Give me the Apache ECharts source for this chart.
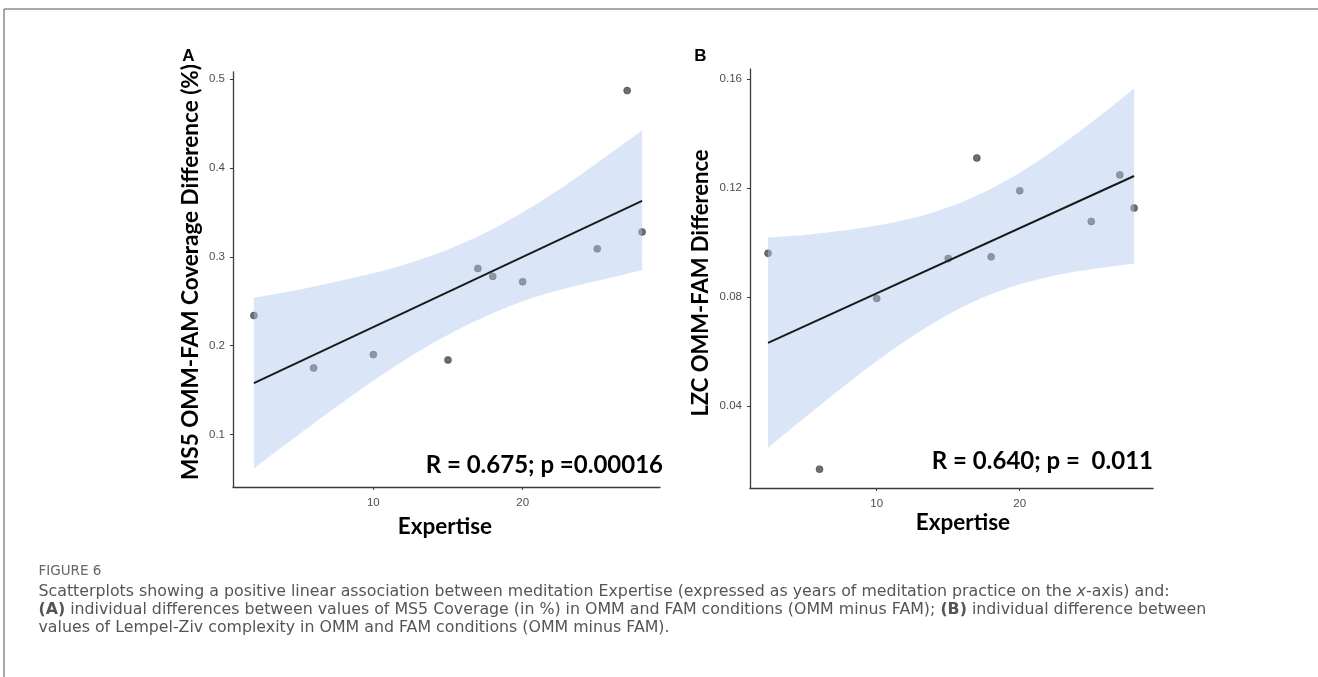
<!DOCTYPE html>
<html>
<head>
<meta charset="utf-8">
<script src="https://cdn.jsdelivr.net/npm/echarts@6/dist/echarts.min.js"></script>
<style>
html,body{margin:0;padding:0;background:#fff;}
#chart{width:1318px;height:677px;}
</style>
</head>
<body>
<div id="chart"></div>
<script>
// ---------- Data ----------
// Panel A: MS5 OMM-FAM coverage difference vs expertise (years)
const expertiseA = [2, 6, 10, 15, 17, 18, 20, 25, 27, 28];
const ms5Diff    = [0.234, 0.175, 0.190, 0.184, 0.287, 0.278, 0.272, 0.309, 0.487, 0.328];
const fitAx = [2, 28];
const fitAy = [0.158, 0.363];
const bandAx    = [2, 5, 8, 11, 14, 17, 20, 23, 26, 28];
const bandALow  = [0.062, 0.100, 0.137, 0.172, 0.203, 0.229, 0.250, 0.265, 0.277, 0.285];
const bandAHigh = [0.254, 0.263, 0.274, 0.286, 0.302, 0.323, 0.350, 0.382, 0.418, 0.442];
const yTicksA = [0.1, 0.2, 0.3, 0.4, 0.5];

// Panel B: LZC OMM-FAM difference vs expertise (years)
const expertiseB = [2.4, 6, 10, 15, 17, 18, 20, 25, 27, 28];
const lzcDiff    = [0.096, 0.0167, 0.0794, 0.0941, 0.131, 0.0947, 0.119, 0.1077, 0.1248, 0.1126];
const fitBx = [2.4, 28];
const fitBy = [0.0631, 0.1244];
const bandBx    = [2.4, 5, 8, 11, 14, 17, 20, 23, 26, 28];
const bandBLow  = [0.0246, 0.0358, 0.0484, 0.0602, 0.0705, 0.0788, 0.0846, 0.0884, 0.0909, 0.0922];
const bandBHigh = [0.1018, 0.1028, 0.1046, 0.1072, 0.1111, 0.1172, 0.1256, 0.1362, 0.1481, 0.1566];
const yTicksB = [0.04, 0.08, 0.12, 0.16];

const xTicks = [10, 20];

// ---------- Helpers ----------
const pairs = (xs, ys) => xs.map((x, i) => [x, ys[i]]);

const AXIS_COLOR = '#3a3a3a';
const LABEL_STYLE = { color: '#4d4d4d', fontSize: 11.5, fontFamily: 'Liberation Sans, Arial, sans-serif' };
const BAND_COLOR = 'rgba(175,200,238,0.46)';
const POINT_COLOR = '#4a4a4a';

function makeXAxis(grid, min, max) {
  return {
    type: 'value', gridIndex: grid, min: min, max: max,
    axisLine: { show: true, onZero: false, lineStyle: { color: AXIS_COLOR, width: 1.3 } },
    axisTick: { show: true, length: 3, customValues: xTicks, lineStyle: { color: AXIS_COLOR, width: 1 } },
    axisLabel: Object.assign({ customValues: xTicks, margin: 10 }, LABEL_STYLE),
    splitLine: { show: false }
  };
}
function makeYAxis(grid, min, max, ticks, fmt) {
  return {
    type: 'value', gridIndex: grid, min: min, max: max,
    axisLine: { show: true, onZero: false, lineStyle: { color: AXIS_COLOR, width: 1.3 } },
    axisTick: { show: true, length: 3, customValues: ticks, lineStyle: { color: AXIS_COLOR, width: 1 } },
    axisLabel: Object.assign({ customValues: ticks, margin: 8, formatter: fmt }, LABEL_STYLE),
    splitLine: { show: false }
  };
}

// Catmull-Rom smoothing of screen-space points (rendering only)
function smoothPts(pts) {
  const out = [];
  const n = pts.length, steps = 10;
  for (let i = 0; i < n - 1; i++) {
    const p0 = pts[Math.max(i - 1, 0)], p1 = pts[i], p2 = pts[i + 1], p3 = pts[Math.min(i + 2, n - 1)];
    for (let s = 0; s < steps; s++) {
      const t = s / steps, t2 = t * t, t3 = t2 * t;
      const f = (a, b, c, d) => 0.5 * ((2 * b) + (-a + c) * t + (2 * a - 5 * b + 4 * c - d) * t2 + (-a + 3 * b - 3 * c + d) * t3);
      out.push([f(p0[0], p1[0], p2[0], p3[0]), f(p0[1], p1[1], p2[1], p3[1])]);
    }
  }
  out.push(pts[n - 1]);
  return out;
}

function bandSeries(idx, bx, lo, hi) {
  return {
    type: 'custom', xAxisIndex: idx, yAxisIndex: idx, z: 3, silent: true,
    data: bx.map((x, i) => [x, lo[i], hi[i]]),
    encode: { x: 0, y: [1, 2] },
    renderItem: function (params, api) {
      if (params.dataIndex !== 0) return null;
      const top = bx.map((x, i) => api.coord([x, hi[i]]));
      const bot = bx.map((x, i) => api.coord([x, lo[i]]));
      const pts = smoothPts(top).concat(smoothPts(bot).reverse());
      return { type: 'polygon', shape: { points: pts }, style: { fill: BAND_COLOR } };
    }
  };
}

function panelSeries(idx, xs, ys, bx, blo, bhi, fx, fy) {
  return [
    {
      type: 'scatter', xAxisIndex: idx, yAxisIndex: idx,
      data: pairs(xs, ys), symbolSize: 7, z: 2,
      itemStyle: { color: POINT_COLOR, borderColor: '#333', borderWidth: 0.6 }
    },
    bandSeries(idx, bx, blo, bhi),
    {
      type: 'line', xAxisIndex: idx, yAxisIndex: idx,
      data: pairs(fx, fy), symbol: 'none', z: 4, silent: true,
      lineStyle: { color: '#1a1a1a', width: 2 }
    }
  ];
}

const boldFont = (size) => 'bold ' + size + 'px Lato, "Open Sans", sans-serif';
const CAPTION_FAMILY = '"DejaVu Sans", "Open Sans", sans-serif';
const CAPTION_FONT = '15.8px ' + CAPTION_FAMILY;
const CAPTION_COLOR = '#555555';

const option = {
  animation: false,
  backgroundColor: '#ffffff',
  grid: [
    { left: 233, top: 72, width: 427, height: 415 },
    { left: 750, top: 69, width: 403, height: 419 }
  ],
  xAxis: [ makeXAxis(0, 0.6, 29.2), makeXAxis(1, 1.14, 29.32) ],
  yAxis: [
    makeYAxis(0, 0.0411, 0.5079, yTicksA, v => v.toFixed(1)),
    makeYAxis(1, 0.0098, 0.1637, yTicksB, v => v.toFixed(2))
  ],
  series: [].concat(
    panelSeries(0, expertiseA, ms5Diff, bandAx, bandALow, bandAHigh, fitAx, fitAy),
    panelSeries(1, expertiseB, lzcDiff, bandBx, bandBLow, bandBHigh, fitBx, fitBy)
  ),
  graphic: [
    // frame
    { type: 'line', shape: { x1: 4, y1: 9, x2: 1318, y2: 9 }, style: { stroke: '#8c8c8c', lineWidth: 1.5 } },
    { type: 'line', shape: { x1: 4, y1: 9, x2: 4, y2: 677 }, style: { stroke: '#8c8c8c', lineWidth: 1.5 } },
    // panel letters
    { type: 'text', x: 188.5, y: 56, style: { text: 'A', font: 'bold 17px "Liberation Sans", Arial, sans-serif', fill: '#000', textAlign: 'center', textVerticalAlign: 'middle' } },
    { type: 'text', x: 700.5, y: 56.5, style: { text: 'B', font: 'bold 17px "Liberation Sans", Arial, sans-serif', fill: '#000', textAlign: 'center', textVerticalAlign: 'middle' } },
    // y axis titles
    { type: 'text', x: 191, y: 272, rotation: Math.PI / 2, style: { text: 'MS5 OMM-FAM Coverage Difference (%)', font: boldFont(22.5), fill: '#000', textAlign: 'center', textVerticalAlign: 'middle' } },
    { type: 'text', x: 701, y: 283, rotation: Math.PI / 2, style: { text: 'LZC OMM-FAM Difference', font: boldFont(22), fill: '#000', textAlign: 'center', textVerticalAlign: 'middle' } },
    // x axis titles
    { type: 'text', x: 445, y: 527, style: { text: 'Expertise', font: boldFont(22.5), fill: '#000', textAlign: 'center', textVerticalAlign: 'middle' } },
    { type: 'text', x: 963, y: 523, style: { text: 'Expertise', font: boldFont(22.5), fill: '#000', textAlign: 'center', textVerticalAlign: 'middle' } },
    // statistics annotations
    { type: 'text', x: 663, y: 465, style: { text: 'R = 0.675; p =0.00016', font: boldFont(24), fill: '#000', textAlign: 'right', textVerticalAlign: 'middle' } },
    { type: 'text', x: 1153, y: 461, style: { text: 'R = 0.640; p =  0.011', font: boldFont(24), fill: '#000', textAlign: 'right', textVerticalAlign: 'middle' } },
    // caption
    { type: 'text', x: 38.5, y: 571, style: { text: 'FIGURE 6', font: '13.5px ' + CAPTION_FAMILY, fill: '#666666', textAlign: 'left', textVerticalAlign: 'middle' } },
    { type: 'text', x: 38.5, y: 592, style: {
        text: 'Scatterplots showing a positive linear association between meditation Expertise (expressed as years of meditation practice on the {i|x}-axis) and:',
        font: CAPTION_FONT, fill: CAPTION_COLOR, textAlign: 'left', textVerticalAlign: 'middle',
        rich: { i: { fontStyle: 'italic', fontSize: 15.8, fontFamily: CAPTION_FAMILY, fill: CAPTION_COLOR } } } },
    { type: 'text', x: 38.5, y: 610, style: {
        text: '{b|(A)} individual differences between values of MS5 Coverage (in %) in OMM and FAM conditions (OMM minus FAM); {b|(B)} individual difference between',
        font: CAPTION_FONT, fill: CAPTION_COLOR, textAlign: 'left', textVerticalAlign: 'middle',
        rich: { b: { fontWeight: 'bold', fontSize: 15.8, fontFamily: CAPTION_FAMILY, fill: CAPTION_COLOR } } } },
    { type: 'text', x: 38.5, y: 628, style: {
        text: 'values of Lempel-Ziv complexity in OMM and FAM conditions (OMM minus FAM).',
        font: CAPTION_FONT, fill: CAPTION_COLOR, textAlign: 'left', textVerticalAlign: 'middle' } }
  ]
};

const chart = echarts.init(document.getElementById('chart'), null, { renderer: 'canvas' });
chart.setOption(option);
</script>
</body>
</html>
